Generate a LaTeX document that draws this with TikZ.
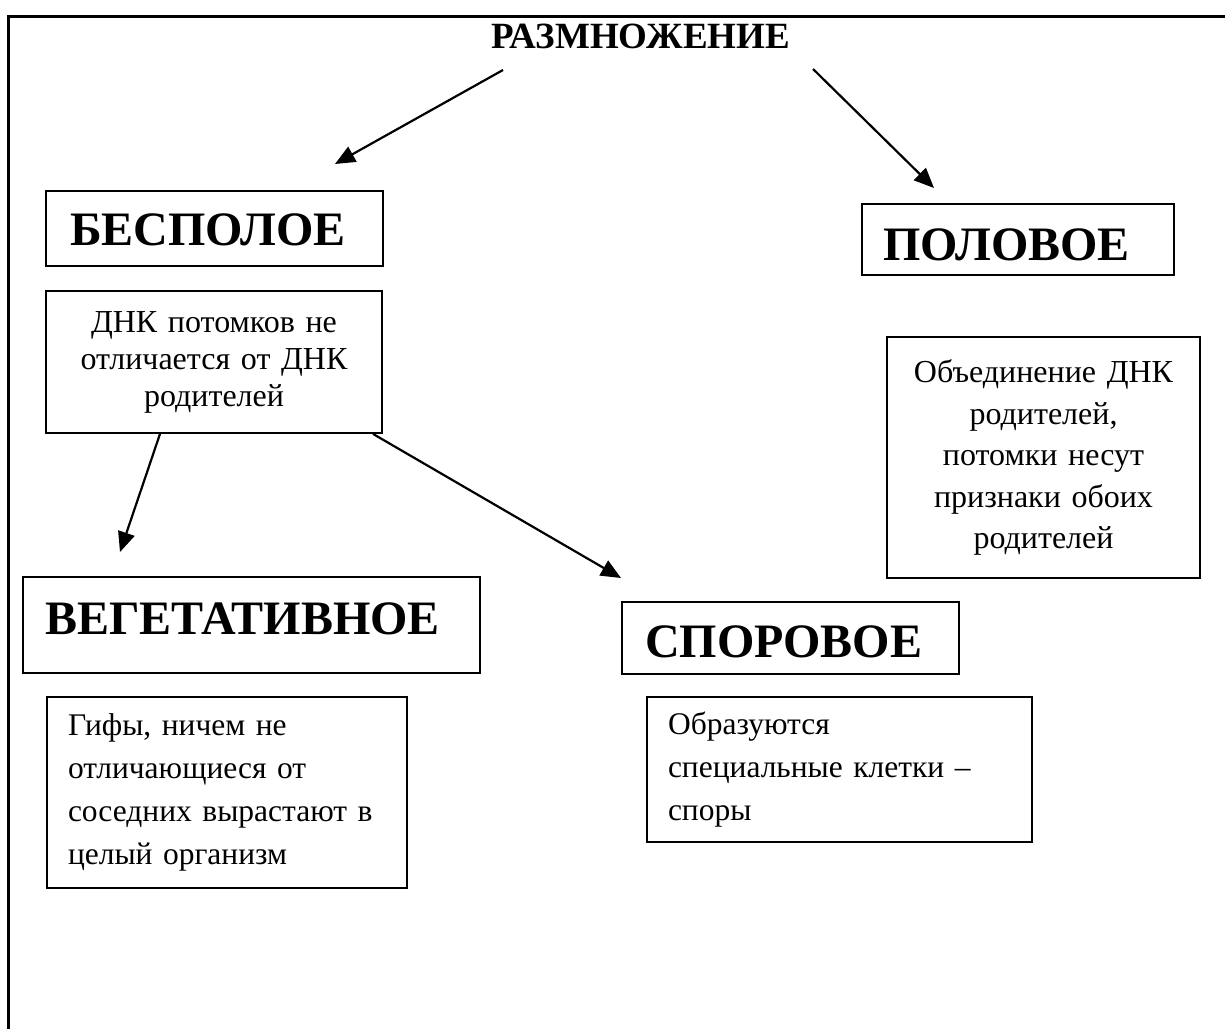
\documentclass[tikz,border=0pt]{standalone}
\usepackage{fontspec}
\setmainfont{Liberation Serif}
\usetikzlibrary{arrows.meta,calc}
\begin{document}
\begin{tikzpicture}[x=1pt,y=-1pt,
  frame/.style={line width=3pt},
  bigbox/.style={draw, line width=1.8pt, inner sep=0pt, align=left,
    font=\fontsize{48}{54}\selectfont\bfseries},
  txtbox/.style={draw, line width=1.8pt, inner sep=0pt,
    font=\fontsize{31.5}{43}\selectfont},
  arr/.style={line width=2.2pt, -{Triangle[length=20pt,width=17pt]}}
]
\useasboundingbox (0,0) rectangle (1225,1028);
\draw[frame] (8,1030) -- (8,16) -- (1227,16);

\node[font=\fontsize{37}{42}\selectfont\bfseries] (title) at (641,36) {РАЗМНОЖЕНИЕ};

\node[bigbox, minimum width=337, minimum height=75, text width=289,
  text height=33pt, text depth=0pt] (bes) at (214.5,228.5) {БЕСПОЛОЕ};
\node[txtbox, minimum width=336, minimum height=142, text width=320, align=center,
  font=\fontsize{32}{37}\selectfont] (dnk) at (214,362)
  {ДНК потомков не\\отличается от ДНК\\родителей};

\node[bigbox, minimum width=457, minimum height=96, text width=413,
  text height=32pt, text depth=14pt] (veg) at (251.5,625) {ВЕГЕТАТИВНОЕ};
\node[txtbox, minimum width=360, minimum height=191, text width=318, align=left] (gif) at (227,792.5)
  {Гифы, ничем не\\отличающиеся от\\соседних вырастают в\\целый организм};

\node[bigbox, minimum width=337, minimum height=72, text width=291,
  text height=38pt, text depth=0pt] (spor) at (790.5,638) {СПОРОВОЕ};
\node[txtbox, minimum width=385, minimum height=145, text width=343, align=left] (obr) at (839.5,769.5)
  {Образуются\\специальные клетки –\\споры};

\node[bigbox, minimum width=312, minimum height=71, text width=270,
  text height=42pt, text depth=0pt] (pol) at (1018,239.5) {ПОЛОВОЕ};
\node[txtbox, minimum width=313, minimum height=241, text width=300, align=center,
  font=\fontsize{32}{41.5}\selectfont] (obj) at (1043.5,457.5)
  {Объединение ДНК\\родителей,\\потомки несут\\признаки обоих\\родителей};

\coordinate (a1s) at (503,70);
\coordinate (a1e) at (335,164);
\coordinate (a2s) at (813,69);
\coordinate (a2e) at (934,188);
\coordinate (a3e) at (120,552);
\coordinate (a4e) at (621,578);

\draw[arr] (a1s) -- (a1e);
\draw[arr] (a2s) -- (a2e);
\draw[arr] (dnk.south -| 160,0) -- (a3e);
\draw[arr] (dnk.south -| 373,0) -- (a4e);
\end{tikzpicture}
\end{document}
